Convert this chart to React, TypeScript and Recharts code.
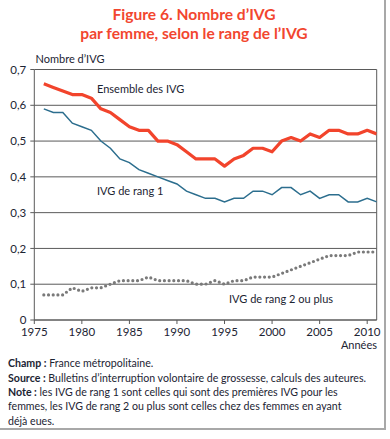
import React from "react";
import { LineChart, Line, XAxis, YAxis, CartesianGrid, ReferenceLine } from "recharts";

const years = [1976, 1977, 1978, 1979, 1980, 1981, 1982, 1983, 1984, 1985, 1986, 1987, 1988, 1989, 1990, 1991, 1992, 1993, 1994, 1995, 1996, 1997, 1998, 1999, 2000, 2001, 2002, 2003, 2004, 2005, 2006, 2007, 2008, 2009, 2010, 2011];
const ensemble = [0.66, 0.65, 0.64, 0.63, 0.63, 0.62, 0.59, 0.58, 0.56, 0.54, 0.53, 0.53, 0.5, 0.5, 0.49, 0.47, 0.45, 0.45, 0.45, 0.43, 0.45, 0.46, 0.48, 0.48, 0.47, 0.5, 0.51, 0.5, 0.52, 0.51, 0.53, 0.53, 0.52, 0.52, 0.53, 0.52];
const rang1 = [0.59, 0.58, 0.58, 0.55, 0.54, 0.53, 0.5, 0.48, 0.45, 0.44, 0.42, 0.41, 0.4, 0.39, 0.38, 0.36, 0.35, 0.34, 0.34, 0.33, 0.34, 0.34, 0.36, 0.36, 0.35, 0.37, 0.37, 0.35, 0.36, 0.34, 0.35, 0.35, 0.33, 0.33, 0.34, 0.33];
const rang2 = [0.07, 0.07, 0.07, 0.09, 0.08, 0.09, 0.09, 0.1, 0.11, 0.11, 0.11, 0.12, 0.11, 0.11, 0.11, 0.11, 0.1, 0.1, 0.11, 0.1, 0.11, 0.11, 0.12, 0.12, 0.12, 0.13, 0.14, 0.15, 0.16, 0.17, 0.18, 0.18, 0.18, 0.19, 0.19, 0.19];
const xTicks = [1975, 1980, 1985, 1990, 1995, 2000, 2005, 2010];
const yTicks = [0, 0.1, 0.2, 0.3, 0.4, 0.5, 0.6, 0.7];

const data = years.map((y, i) => ({ year: y, ensemble: ensemble[i], rang1: rang1[i], rang2: rang2[i] }));

const FONT = "Lato, 'Noto Sans', sans-serif";
const TXT = "#1c2433";

const fmtY = (v: number) => (v === 0 ? "0" : v.toFixed(1).replace(".", ","));

export default function App() {
  return (
    <div style={{ position: "absolute", left: 0, top: 0, width: 390, height: 439, background: "#fff", fontFamily: FONT }}>
      <div style={{ position: "absolute", left: -10, top: -10, width: 394, height: 438, borderRight: "2px solid #a8a8a8", borderBottom: "2px solid #a8a8a8" }} />
      <div style={{ position: "absolute", left: 0, top: 0 }}>
        <LineChart width={390} height={360} data={data} margin={{ top: 69.5, right: 13.3, left: 0, bottom: 10 }}>
          <CartesianGrid vertical={false} stroke="#5a5a5a" strokeWidth={1} />
          <XAxis
            dataKey="year"
            type="number"
            domain={[1975, 2011]}
            ticks={xTicks}
            interval={0}
            allowDataOverflow
            height={30}
            tickSize={4}
            tickMargin={4}
            stroke="#5a5a5a"
            tick={{ fill: TXT, fontSize: 11.5, fontFamily: FONT }}
          />
          <YAxis
            type="number"
            domain={[0, 0.7]}
            ticks={yTicks}
            interval={0}
            width={34.3}
            tickSize={4}
            tickMargin={4}
            stroke="#5a5a5a"
            tickFormatter={fmtY}
            tick={{ fill: TXT, fontSize: 11.5, fontFamily: FONT }}
          />
          <ReferenceLine x={2011} stroke="#5a5a5a" strokeWidth={1} />
          <Line dataKey="rang2" stroke="#7a7a7a" strokeWidth={3.2} strokeDasharray="0 4.7" strokeLinecap="round" dot={false} isAnimationActive={false} type="linear" />
          <Line dataKey="rang1" stroke="#2c6e8e" strokeWidth={1.5} dot={false} isAnimationActive={false} type="linear" />
          <Line dataKey="ensemble" stroke="#f2442c" strokeWidth={3.2} dot={false} isAnimationActive={false} type="linear" strokeLinejoin="round" />
        </LineChart>
      </div>
      <svg width={390} height={439} style={{ position: "absolute", left: 0, top: 0, pointerEvents: "none" }} fontFamily={FONT}>
        <text x={194} y={19.5} textAnchor="middle" fontSize={15.6} fontWeight={700} fill="#f2462f">Figure 6. Nombre d’IVG</text>
        <text x={194} y={39} textAnchor="middle" fontSize={15.6} fontWeight={700} fill="#f2462f">par femme, selon le rang de l’IVG</text>
        <text x={35.5} y={63} fontSize={11} fill={TXT}>Nombre d’IVG</text>
        <text x={97} y={93} fontSize={11} fill={TXT}>Ensemble des IVG</text>
        <text x={97} y={195} fontSize={11} fill={TXT}>IVG de rang 1</text>
        <text x={229} y={303} fontSize={11} fill={TXT}>IVG de rang 2 ou plus</text>
        <text x={377} y={349} textAnchor="end" fontSize={11} fill={TXT}>Années</text>
        <text x={8} y={367} fontSize={10.6} fill={TXT}><tspan fontWeight={700}>Champ :</tspan> France métropolitaine.</text>
        <text x={8} y={381.5} fontSize={10.6} fill={TXT}><tspan fontWeight={700}>Source :</tspan> Bulletins d’interruption volontaire de grossesse, calculs des auteures.</text>
        <text x={8} y={396} fontSize={10.6} fill={TXT}><tspan fontWeight={700}>Note :</tspan> les IVG de rang 1 sont celles qui sont des premières IVG pour les</text>
        <text x={8} y={410} fontSize={10.6} fill={TXT}>femmes, les IVG de rang 2 ou plus sont celles chez des femmes en ayant</text>
        <text x={8} y={424.5} fontSize={10.6} fill={TXT}>déjà eues.</text>
      </svg>
    </div>
  );
}
